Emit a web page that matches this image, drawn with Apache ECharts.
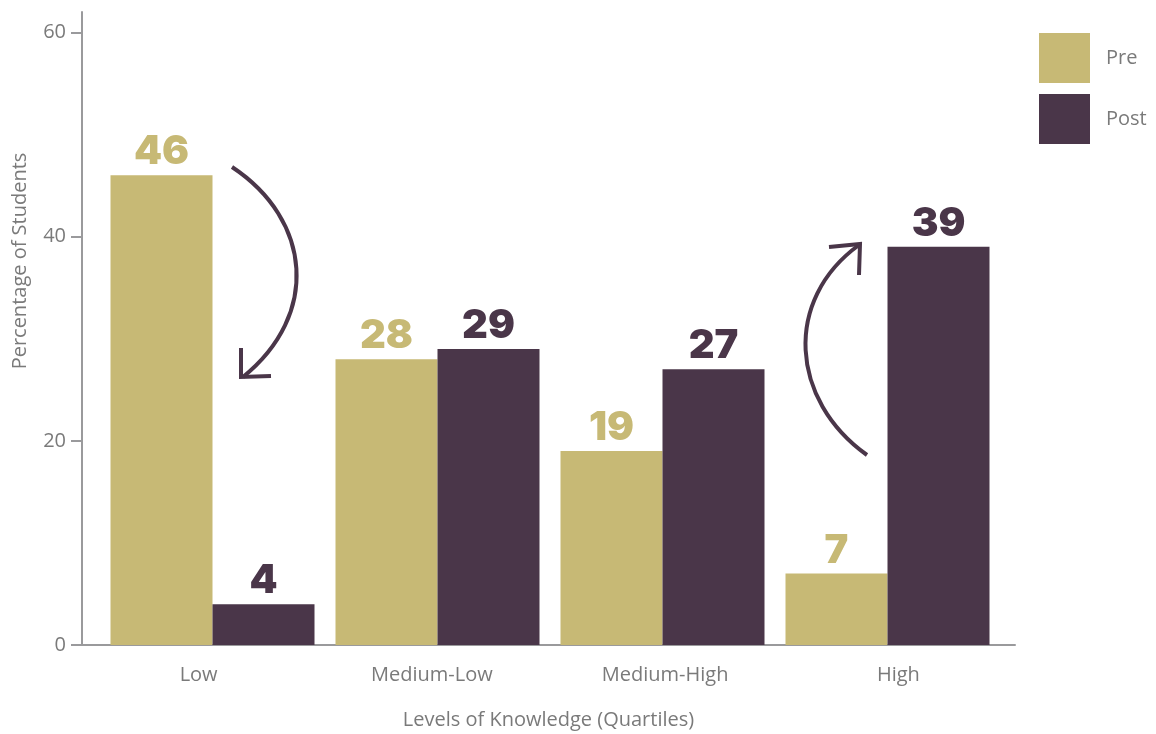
<!DOCTYPE html>
<html>
<head>
<meta charset="utf-8">
<title>Levels of Knowledge</title>
<script src="https://cdn.jsdelivr.net/npm/echarts@6/dist/echarts.min.js"></script>
<style>
  html, body { margin: 0; padding: 0; background: #ffffff; }
  #chart { width: 1156px; height: 734px; }
</style>
</head>
<body>
<div id="chart"></div>
<script>
// Quartile categories and share of students before / after
const categories = ['Low', 'Medium-Low', 'Medium-High', 'High'];
const preValues = [46, 28, 19, 7];
const postValues = [4, 29, 27, 39];
const yTicks = [0, 20, 40, 60];

const PRE_COLOR = '#c7b975';
const POST_COLOR = '#4a3649';
const TEXT_GRAY = '#7a7a7a';
const AXIS_GRAY = '#9a9a9c';
const FONT = '"Open Sans", sans-serif';

const chart = echarts.init(document.getElementById('chart'));

const valueLabel = (color) => ({
  show: true,
  position: 'top',
  distance: 3,
  color: color,
  fontFamily: 'Inter, sans-serif',
  fontWeight: 900,
  fontSize: 40
});

const arrowStyle = { fill: null, stroke: POST_COLOR, lineWidth: 4 };

chart.setOption({
  animation: false,
  backgroundColor: '#ffffff',
  grid: [
    // axes frame
    { left: 82, right: 141, top: 12, bottom: 89, outerBoundsMode: 'none' },
    // bar band
    { left: 100, right: 156, top: 12, bottom: 89, outerBoundsMode: 'none' }
  ],
  legend: {
    data: [
      { name: 'Pre', textStyle: { padding: [10, 0, 0, 11] } },
      { name: 'Post', textStyle: { padding: [0, 0, 0, 11] } }
    ],
    orient: 'vertical',
    left: 1034,
    top: 28,
    icon: 'rect',
    itemWidth: 51,
    itemHeight: 50,
    itemGap: 11,
    textStyle: { color: TEXT_GRAY, fontFamily: FONT, fontSize: 20 }
  },
  xAxis: [
    {
      gridIndex: 0,
      type: 'category',
      data: categories,
      name: 'Levels of Knowledge (Quartiles)',
      nameLocation: 'middle',
      nameGap: 65,
      nameTextStyle: { color: TEXT_GRAY, fontFamily: FONT, fontSize: 20 },
      axisLine: { lineStyle: { color: AXIS_GRAY, width: 2 } },
      axisTick: { show: false },
      axisLabel: { color: TEXT_GRAY, fontFamily: FONT, fontSize: 20, margin: 20 }
    },
    {
      gridIndex: 1,
      type: 'category',
      data: categories,
      show: false
    }
  ],
  yAxis: [
    {
      gridIndex: 0,
      type: 'value',
      min: 0,
      max: 62,
      interval: 20,
      splitLine: { show: false },
      axisLine: { show: true, lineStyle: { color: AXIS_GRAY, width: 2 } },
      axisTick: { show: true, length: 11, customValues: yTicks, lineStyle: { color: AXIS_GRAY, width: 2 } },
      axisLabel: { color: TEXT_GRAY, fontFamily: FONT, fontSize: 20, margin: 16, customValues: yTicks }
    },
    {
      gridIndex: 1,
      type: 'value',
      min: 0,
      max: 62,
      show: false
    }
  ],
  graphic: [
    {
      type: 'text',
      x: 20,
      y: 261,
      rotation: Math.PI / 2,
      style: {
        text: 'Percentage of Students',
        fill: TEXT_GRAY,
        font: '20px "Open Sans", sans-serif',
        align: 'center',
        verticalAlign: 'middle'
      }
    },
    // falling share in the Low quartile
    {
      type: 'bezierCurve',
      shape: { x1: 232, y1: 167, cpx1: 312, cpy1: 220, cpx2: 320, cpy2: 315, x2: 243, y2: 377 },
      style: arrowStyle
    },
    {
      type: 'polyline',
      shape: { points: [[241, 348], [241, 377], [271, 376]] },
      style: arrowStyle
    },
    // rising share in the High quartile
    {
      type: 'bezierCurve',
      shape: { x1: 867, y1: 455, cpx1: 790, cpy1: 400, cpx2: 783, cpy2: 300, x2: 859, y2: 245 },
      style: arrowStyle
    },
    {
      type: 'polyline',
      shape: { points: [[829, 247], [860, 244], [859, 275]] },
      style: arrowStyle
    }
  ],
  series: [
    {
      name: 'Pre',
      type: 'bar',
      xAxisIndex: 1,
      yAxisIndex: 1,
      data: preValues,
      barWidth: 102,
      barGap: '0%',
      itemStyle: { color: PRE_COLOR },
      label: valueLabel(PRE_COLOR)
    },
    {
      name: 'Post',
      type: 'bar',
      xAxisIndex: 1,
      yAxisIndex: 1,
      data: postValues,
      barWidth: 102,
      barGap: '0%',
      itemStyle: { color: POST_COLOR },
      label: valueLabel(POST_COLOR)
    }
  ]
});
</script>
</body>
</html>
